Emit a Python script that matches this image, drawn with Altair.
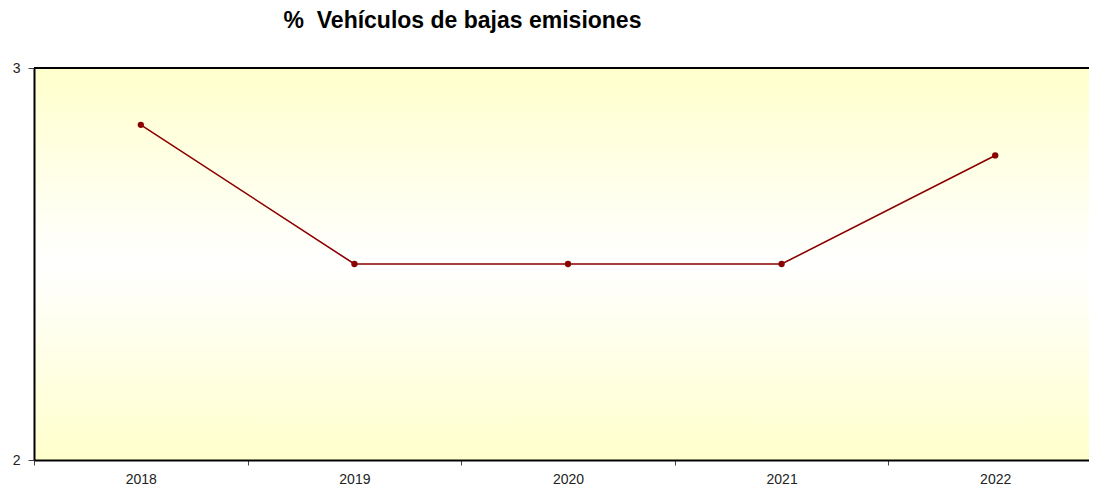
import altair as alt
import pandas as pd

years = ["2018", "2019", "2020", "2021", "2022"]
values = [2.855, 2.5, 2.5, 2.5, 2.777]

df = pd.DataFrame({"year": years, "value": values})

W_FULL = 1068   # full band range (extends past the visible area, as in the reference)
W, H = 1055, 392

bg = alt.Chart(df).mark_rect(
    color=alt.Gradient(
        gradient="linear", x1=0, y1=0, x2=0, y2=1,
        stops=[
            alt.GradientStop(offset=0, color="#FFFFCC"),
            alt.GradientStop(offset=0.5, color="#FFFFFF"),
            alt.GradientStop(offset=1, color="#FFFFCC"),
        ],
    )
).encode(x=alt.value(0), x2=alt.value(W_FULL), y=alt.value(0), y2=alt.value(H))

top_border = alt.Chart(df).mark_rule(color="black", strokeWidth=2).encode(
    x=alt.value(0), x2=alt.value(W_FULL), y=alt.value(0)
)

xenc = alt.X("year:O", sort=years,
             scale=alt.Scale(type="band", paddingInner=0, paddingOuter=0, range=[0, W_FULL]),
             axis=alt.Axis(title=None, labelAngle=0, tickBand="extent", tickSize=5,
                           labelFontSize=14, labelColor="#222", labelFont="Liberation Sans",
                           labelPadding=7, domainColor="black", domainWidth=2,
                           tickColor="#444", zindex=1))
yenc = alt.Y("value:Q", scale=alt.Scale(domain=[2, 3]),
             axis=alt.Axis(title=None, values=[2, 3], format="d", grid=False, tickSize=6,
                           labelFontSize=14, labelColor="#222", labelFont="Liberation Sans",
                           labelPadding=8, domainColor="black", domainWidth=2,
                           tickColor="#444", zindex=1))

line = alt.Chart(df).mark_line(color="#8B0000", strokeWidth=1.6).encode(x=xenc, y=yenc)
pts = alt.Chart(df).mark_point(filled=True, color="#8B0000", size=40, opacity=1).encode(x=xenc, y=yenc)

chart = alt.layer(bg, top_border, line, pts).properties(
    width=W, height=H,
    autosize=alt.AutoSizeParams(type="none"),
    padding={"left": 26, "top": 60, "right": 0, "bottom": 27},
    title=alt.TitleParams("%\u00a0\u00a0Vehículos de bajas emisiones", font="Liberation Sans",
                          fontSize=23, fontWeight="bold", color="black",
                          anchor="middle", dx=-99, offset=28),
).configure_view(stroke=None)

chart.save("out.html", embed_options={"renderer": "svg", "actions": False})
